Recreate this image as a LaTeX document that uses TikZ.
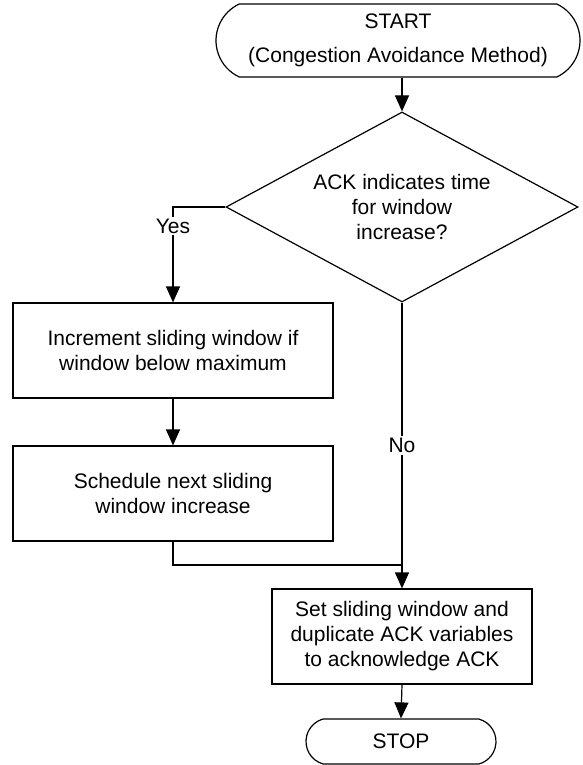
\documentclass[tikz,border=0pt]{standalone}
\usepackage{fontspec}
\setmainfont{Liberation Sans}
\usetikzlibrary{shapes.geometric,shapes.misc,arrows.meta}
\begin{document}
\begin{tikzpicture}[x=1pt,y=-1pt, line width=1.2pt,
  every node/.style={font=\fontsize{21}{25}\selectfont},
  term/.style={draw, rounded rectangle, inner sep=0pt, align=center},
  proc/.style={draw, rectangle, inner sep=0pt, align=center, minimum height=95pt},
  decis/.style={draw, diamond, shape aspect=1.85, inner sep=0pt, align=center, minimum width=352pt, minimum height=190pt},
  arr/.style={-{Triangle[width=14pt,length=16pt]}},
  lbl/.style={fill=white, inner sep=2pt}]
\useasboundingbox (0,0) rectangle (582,765);
\node[term, minimum width=364pt, minimum height=73pt, rounded rectangle arc length=130] (start) at (398,40.5) {START\\[9pt](Congestion Avoidance Method)};
\node[decis] (dia) at (402,207) {ACK indicates time\\for window\\increase?};
\node[proc, minimum width=320pt] (box1) at (173,350.5) {Increment sliding window if\\window below maximum};
\node[proc, minimum width=320pt] (box2) at (173,493.5) {Schedule next sliding\\window increase};
\node[proc, minimum width=260pt] (box3) at (402,636.5) {Set sliding window and\\duplicate ACK variables\\to acknowledge ACK};
\node[term, minimum width=190pt, minimum height=45pt, rounded rectangle arc length=150] (stop) at (401,741.5) {STOP};
\coordinate (join) at (402,565);
\draw[arr] (dia.north |- start.south) -- (dia.north);
\draw[arr] (dia.west) -| node[lbl, pos=0.6] {Yes} (box1.north);
\draw[arr] (box1.south) -- (box2.north);
\draw (box2.south) |- (join);
\draw[arr] (dia.south) -- node[lbl] {No} (box3.north);
\draw[arr] (box3.south) -- (stop.north);
\end{tikzpicture}
\end{document}
